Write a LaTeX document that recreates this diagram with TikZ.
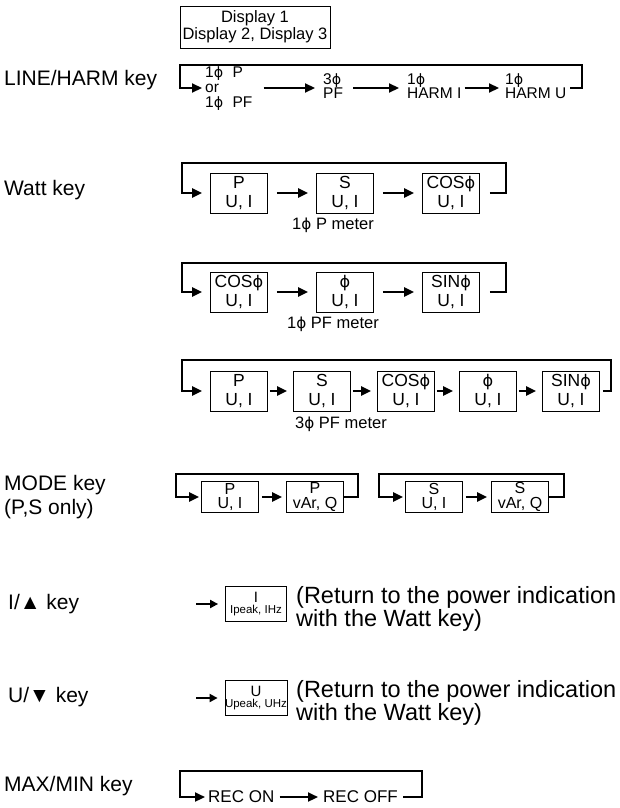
\documentclass[tikz,border=0pt]{standalone}
\usepackage{fontspec}
\setmainfont{Liberation Sans}
\newfontfamily\phfont{DejaVu Sans}
\newcommand{\fy}{{\phfont\fontsize{0.92em}{1em}\selectfont\char"03D5}}
\usetikzlibrary{arrows.meta}
\begin{document}
\begin{tikzpicture}[x=1pt,y=-1pt,
  keylbl/.style={anchor=west, font=\fontsize{21}{24}\selectfont, align=left, inner sep=0},
  rettxt/.style={anchor=west, font=\fontsize{23.5}{22.5}\selectfont, align=left, inner sep=0},
  dbox/.style={draw, line width=0.8pt, minimum width=57pt, minimum height=40pt, inner sep=0, align=center, font=\fontsize{17.5}{19}\selectfont},
  mbox/.style={dbox, minimum height=31pt, font=\fontsize{16}{14.5}\selectfont},
  ibox/.style={draw, line width=0.8pt, minimum width=61pt, minimum height=35pt, inner sep=0, align=center},
  ltxt/.style={anchor=west, align=left, inner sep=0, font=\fontsize{15.5}{11.5}\selectfont},
  ltxtb/.style={anchor=west, align=left, inner sep=0, font=\fontsize{15.5}{15}\selectfont},
  meter/.style={font=\fontsize{16.5}{18}\selectfont, inner sep=0},
  cyc/.style={line width=2.2pt, -{Triangle[length=10pt,width=9pt]}},
]
\useasboundingbox (0,0) rectangle (620,808);

% header
\node[draw, line width=0.8pt, minimum width=150pt, minimum height=42pt, inner sep=0, align=center, font=\fontsize{16.5}{17}\selectfont] (disp) at (255,27) {Display 1\\Display 2, Display 3};

% LINE/HARM
\node[keylbl] (klh) at (4,80) {LINE/HARM key};
\coordinate (yLH) at (0,88);
\node[ltxtb] (lh1) at (205,89) {1\fy\hspace{0.6em}P\\or\\1\fy\hspace{0.6em}PF};
\node[ltxt] (lh2) at (323,86) {3\fy\\PF};
\node[ltxt] (lh3) at (407,86) {1\fy\\HARM I};
\node[ltxt] (lh4) at (505,86) {1\fy\\HARM U};
\coordinate (lhTL) at (180,65);
\coordinate (lhTR) at (582,65);
\coordinate (lhBR) at (582,88);
\coordinate (lhE) at (570,88);
\draw[cyc, shorten >=3pt] (lhE) -- (lhBR) -- (lhTR) -- (lhTL) |- (lh1.west |- yLH);
\draw[cyc, shorten <=11pt, shorten >=8pt] (lh1.east |- yLH) -- (lh2.west |- yLH);
\draw[cyc, shorten <=10pt, shorten >=8pt] (lh2.east |- yLH) -- (lh3.west |- yLH);
\draw[cyc, shorten <=3pt, shorten >=6pt] (lh3.east |- yLH) -- (lh4.west |- yLH);

% Watt key
\node[keylbl] (kw) at (4,190) {Watt key};
% row 1
\node[dbox] (a1) at (239,193) {P\\U, I};
\node[dbox] (a2) at (345,193) {S\\U, I};
\node[dbox] (a3) at (451,193) {COS\fy\\U, I};
\node[meter] (ma) at (333,225) {1\fy{} P meter};
\coordinate (aTL) at (182,163);
\coordinate (aTR) at (506,163);
\draw[cyc, shorten >=8pt] ([xshift=10pt]a3.east) -| (aTR) -- (aTL) |- (a1.west);
\draw[cyc, shorten <=9pt, shorten >=8pt] (a1.east) -- (a2.west);
\draw[cyc, shorten <=9pt, shorten >=8pt] (a2.east) -- (a3.west);
% row 2
\node[dbox] (b1) at (239,292) {COS\fy\\U, I};
\node[dbox] (b2) at (345,292) {\fy\\U, I};
\node[dbox] (b3) at (451,292) {SIN\fy\\U, I};
\node[meter] (mb) at (333,324) {1\fy{} PF meter};
\coordinate (bTL) at (182,263);
\coordinate (bTR) at (506,263);
\draw[cyc, shorten >=8pt] ([xshift=10pt]b3.east) -| (bTR) -- (bTL) |- (b1.west);
\draw[cyc, shorten <=9pt, shorten >=8pt] (b1.east) -- (b2.west);
\draw[cyc, shorten <=9pt, shorten >=8pt] (b2.east) -- (b3.west);
% row 3
\node[dbox] (c1) at (239,391) {P\\U, I};
\node[dbox] (c2) at (322,391) {S\\U, I};
\node[dbox] (c3) at (406,391) {COS\fy\\U, I};
\node[dbox] (c4) at (488,391) {\fy\\U, I};
\node[dbox] (c5) at (571,391) {SIN\fy\\U, I};
\node[meter] (mc) at (341,424) {3\fy{} PF meter};
\coordinate (cTL) at (182,360);
\coordinate (cTR) at (611,360);
\draw[cyc, shorten >=8pt] ([xshift=3pt]c5.east) -| (cTR) -- (cTL) |- (c1.west);
\draw[cyc, shorten <=2pt, shorten >=6pt] (c1.east) -- (c2.west);
\draw[cyc, shorten <=2pt, shorten >=6pt] (c2.east) -- (c3.west);
\draw[cyc, shorten <=2pt, shorten >=6pt] (c3.east) -- (c4.west);
\draw[cyc, shorten <=2pt, shorten >=6pt] (c4.east) -- (c5.west);

% MODE key
\node[keylbl] (km) at (4,497) {MODE key\\(P,S only)};
\node[mbox] (d1) at (230,497) {P\\U, I};
\node[mbox] (d2) at (315,497) {P\\vAr, Q};
\coordinate (dTL) at (176,474);
\coordinate (dTR) at (358,474);
\draw[cyc, shorten >=2pt] (d2.east) -| (dTR) -- (dTL) |- (d1.west);
\draw[cyc, shorten <=3pt, shorten >=4pt] (d1.east) -- (d2.west);
\node[mbox] (e1) at (434,497) {S\\U, I};
\node[mbox] (e2) at (520,497) {S\\vAr, Q};
\coordinate (eTL) at (379,474);
\coordinate (eTR) at (564,474);
\draw[cyc, shorten >=2pt] (e2.east) -| (eTR) -- (eTL) |- (e1.west);
\draw[cyc, shorten <=3pt, shorten >=4pt] (e1.east) -- (e2.west);

% I key
\node[keylbl] (ki) at (8,604) {I/▲ key};
\node[ibox] (fi) at (256,604) {\fontsize{15}{14}\selectfont I\\[-1pt]\fontsize{11.5}{13}\selectfont Ipeak, IHz};
\coordinate (fiS) at (196,604);
\draw[cyc, line width=1.8pt, -{Triangle[length=8pt,width=8pt]}] (fiS) -- ([xshift=-7pt]fi.west);
\node[rettxt] (ri) at (296,609) {(Return to the power indication\\with the Watt key)};

% U key
\node[keylbl] (ku) at (8,697) {U/▼ key};
\node[ibox] (fu) at (256,698) {\fontsize{15}{14}\selectfont U\\[-1pt]\fontsize{11.5}{13}\selectfont Upeak, UHz};
\coordinate (fuS) at (196,698);
\draw[cyc, line width=1.8pt, -{Triangle[length=8pt,width=8pt]}] (fuS) -- ([xshift=-7pt]fu.west);
\node[rettxt] (ru) at (296,703) {(Return to the power indication\\with the Watt key)};

% MAX/MIN key
\node[keylbl] (kx) at (4,786) {MAX/MIN key};
\node[ltxt, font=\fontsize{17}{18}\selectfont] (g1) at (208,797) {REC ON};
\node[ltxt, font=\fontsize{17}{18}\selectfont] (g2) at (323,797) {REC OFF};
\coordinate (gTL) at (180,771);
\coordinate (gTR) at (422,771);
\draw[cyc, shorten >=3pt] ([xshift=5pt]g2.east) -| (gTR) -- (gTL) |- (g1.west);
\draw[cyc, shorten <=5pt, shorten >=5pt] (g1.east) -- (g2.west);
\end{tikzpicture}
\end{document}
